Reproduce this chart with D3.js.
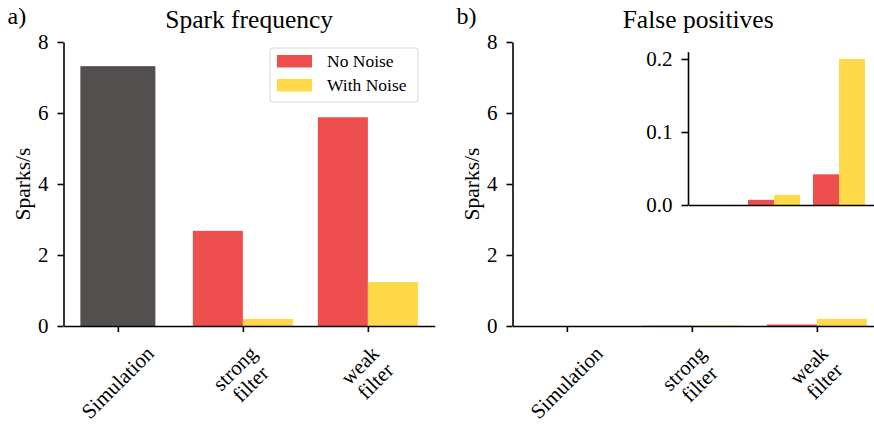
<!DOCTYPE html>
<html>
<head>
<meta charset="utf-8">
<script src="https://cdn.jsdelivr.net/npm/d3@7"></script>
<style>
  body { margin: 0; background: #fff; }
  svg { display: block; font-family: "Liberation Serif", "DejaVu Serif", serif; }
  .axis path, .axis line { stroke: #000; stroke-width: 1.6; }
  .axis text { font-family: "Liberation Serif", serif; fill: #000; }
</style>
</head>
<body>
<div id="chart"></div>
<script>
// categories and values
var categories = ["Simulation", "strong\nfilter", "weak\nfilter"];
var seriesNames = ["No Noise", "With Noise"];
var seriesColors = ["#ee4e4e", "#ffd94a"];
var simColor = "#544f4f";

// a) spark frequency (Sparks/s)
var freqSimulation = 7.32;
var freqNoNoise = [2.68, 5.88];
var freqWithNoise = [0.2, 1.24];

// b) false positives (Sparks/s)
var fpSimulation = 0;
var fpNoNoise = [0.007, 0.042];
var fpWithNoise = [0.014, 0.2];

var mainTicks = [0, 2, 4, 6, 8];
var insetTicks = [0, 0.1, 0.2];

var W = 874, H = 426;
var svg = d3.select("#chart").append("svg")
  .attr("width", W)
  .attr("height", H);

var yBottom = 326, yTop = 42;
var tickFont = "21px";

function makeGroups(noNoise, withNoise) {
  var out = [];
  noNoise.forEach(function(v, i) {
    out.push({cat: i + 1, x0: -0.4, x1: 0, v: v, color: seriesColors[0]});
    out.push({cat: i + 1, x0: 0, x1: 0.4, v: withNoise[i], color: seriesColors[1]});
  });
  return out;
}

function drawPanel(axisX, simVal, noNoise, withNoise, label, title) {
  var x = d3.scaleLinear().domain([-0.435, 2.535]).range([axisX, axisX + 2.97 * 125]);
  var y = d3.scaleLinear().domain([0, 8]).range([yBottom, yTop]);
  var g = svg.append("g");

  // simulation bar
  g.append("rect")
    .attr("x", x(-0.3))
    .attr("width", x(0.3) - x(-0.3))
    .attr("y", y(simVal))
    .attr("height", y(0) - y(simVal))
    .attr("fill", simColor);

  g.selectAll(".bar")
    .data(makeGroups(noNoise, withNoise))
    .enter()
    .append("rect")
      .attr("x", function(d) { return x(d.cat + d.x0); })
      .attr("width", function(d) { return x(d.cat + d.x1) - x(d.cat + d.x0); })
      .attr("y", function(d) { return y(d.v); })
      .attr("height", function(d) { return y(0) - y(d.v); })
      .attr("fill", function(d) { return d.color; });

  // y axis
  var ya = g.append("g")
    .attr("class", "axis")
    .attr("transform", "translate(" + axisX + ",0)")
    .call(d3.axisLeft(y).tickValues(mainTicks).tickSize(6).tickSizeOuter(0).tickPadding(9));
  ya.selectAll("text").style("font-size", tickFont);

  // x axis
  g.append("g")
    .attr("class", "axis")
    .attr("transform", "translate(0," + yBottom + ")")
    .call(d3.axisBottom(x).tickValues([0, 1, 2]).tickFormat("").tickSize(6).tickSizeOuter(0));

  // rotated category labels
  categories.forEach(function(c, i) {
    var lines = c.split("\n");
    var lg = g.append("g");
    var t = lg.append("text")
      .attr("text-anchor", "middle")
      .style("font-size", tickFont);
    lines.forEach(function(line, j) {
      t.append("tspan")
        .attr("x", 0)
        .attr("y", (j - (lines.length - 1) / 2) * 22 + 6)
        .text(line);
    });
    lg.attr("transform", "rotate(-45)");
    var b = lg.node().getBoundingClientRect();
    var cx = b.left + b.width / 2, ty = b.top;
    lg.attr("transform", "translate(" + (x(i) - cx) + "," + (yBottom + 15 - ty) + ") rotate(-45)");
  });

  // y label
  svg.append("text")
    .attr("transform", "translate(" + (axisX - 34) + "," + ((yTop + yBottom) / 2) + ") rotate(-90)")
    .attr("text-anchor", "middle")
    .style("font-size", "21.5px")
    .text("Sparks/s");

  // title and panel letter
  svg.append("text")
    .attr("x", (x.range()[0] + x.range()[1]) / 2)
    .attr("y", 28)
    .attr("text-anchor", "middle")
    .style("font-size", "25.5px")
    .text(title);
  svg.append("text")
    .attr("x", axisX - 56)
    .attr("y", 24)
    .style("font-size", "24px")
    .text(label);

  return {x: x, y: y, g: g};
}

drawPanel(63.5, freqSimulation, freqNoNoise, freqWithNoise, "a)", "Spark frequency");
drawPanel(512.5, fpSimulation, fpNoNoise, fpWithNoise, "b)", "False positives");

// legend in panel a
var legend = svg.append("g").attr("transform", "translate(270,48)");
legend.append("rect")
  .attr("width", 148)
  .attr("height", 54)
  .attr("rx", 3)
  .attr("fill", "#fff")
  .attr("fill-opacity", 0.8)
  .attr("stroke", "#d6d6d6")
  .attr("stroke-width", 1);
seriesNames.forEach(function(name, i) {
  legend.append("rect")
    .attr("x", 7)
    .attr("y", 7 + i * 24)
    .attr("width", 35)
    .attr("height", 12.5)
    .attr("fill", seriesColors[i]);
  legend.append("text")
    .attr("x", 57)
    .attr("y", 7 + i * 24 + 12)
    .style("font-size", "17.5px")
    .text(name);
});

// inset of panel b
var ix = d3.scaleLinear().domain([-0.323, 2.54]).range([688, 688 + 2.863 * 65]);
var iy = d3.scaleLinear().domain([0, 0.21]).range([205, 205 - 0.21 * 730]);
var inset = svg.append("g");
inset.append("rect")
  .attr("x", ix(-0.3))
  .attr("width", ix(0.3) - ix(-0.3))
  .attr("y", iy(fpSimulation))
  .attr("height", iy(0) - iy(fpSimulation))
  .attr("fill", simColor);
inset.selectAll(".bar")
  .data(makeGroups(fpNoNoise, fpWithNoise))
  .enter()
  .append("rect")
    .attr("x", function(d) { return ix(d.cat + d.x0); })
    .attr("width", function(d) { return ix(d.cat + d.x1) - ix(d.cat + d.x0); })
    .attr("y", function(d) { return iy(d.v); })
    .attr("height", function(d) { return iy(0) - iy(d.v); })
    .attr("fill", function(d) { return d.color; });
var iya = inset.append("g")
  .attr("class", "axis")
  .attr("transform", "translate(688,0)")
  .call(d3.axisLeft(iy).tickValues(insetTicks).tickFormat(d3.format(".1f")).tickSize(6.5).tickSizeOuter(0).tickPadding(9));
iya.selectAll("text").style("font-size", tickFont);
inset.append("g")
  .attr("class", "axis")
  .attr("transform", "translate(0,205)")
  .call(d3.axisBottom(ix).tickValues([]).tickSizeOuter(0));
</script>
</body>
</html>
